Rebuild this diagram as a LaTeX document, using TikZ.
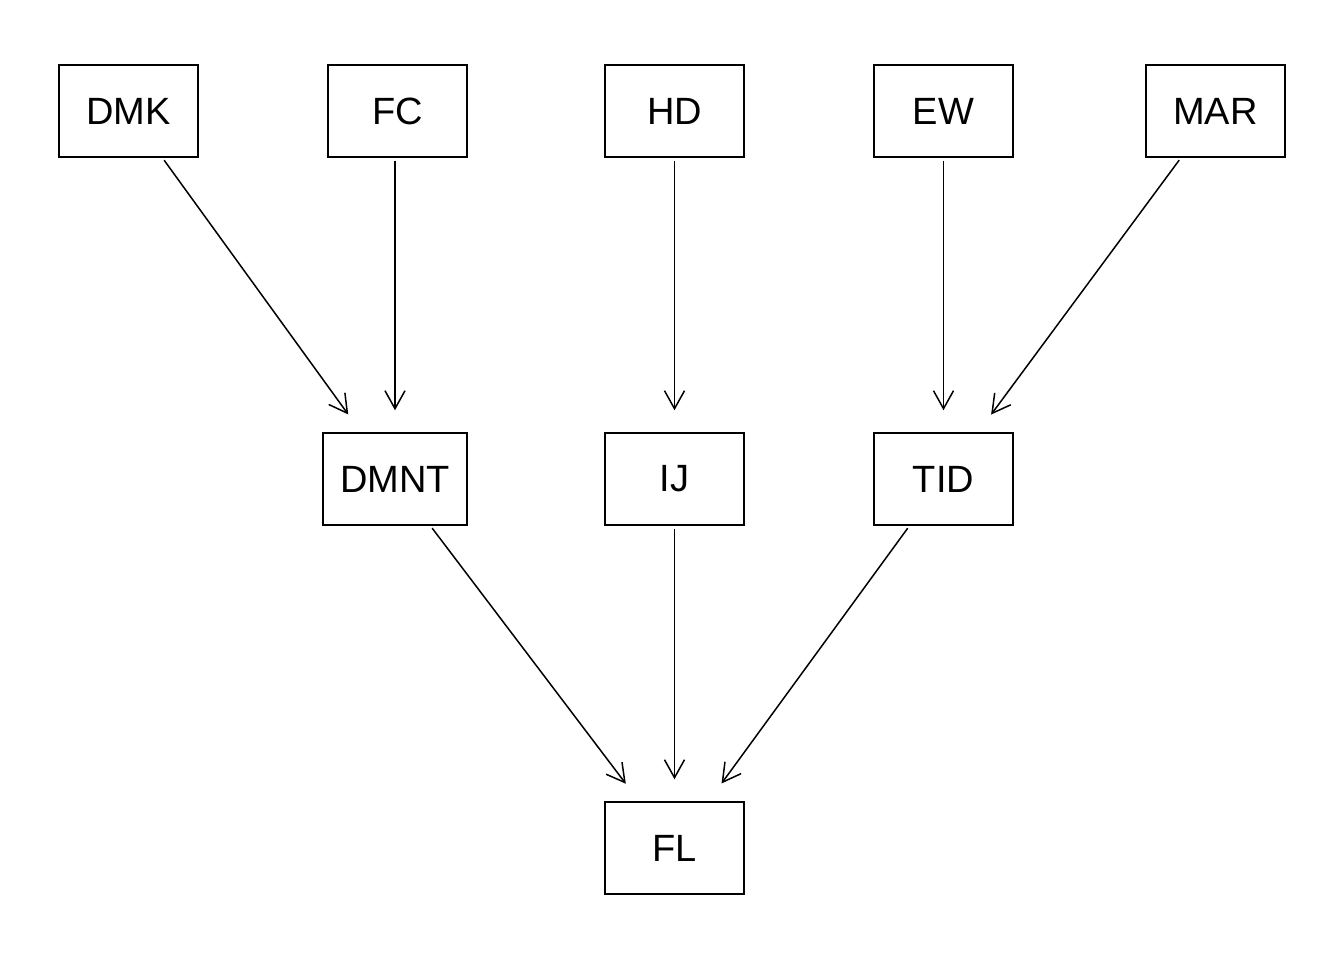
\documentclass[tikz,border=0pt]{standalone}
\usepackage{fontspec}
\setmainfont{Liberation Sans}
\usetikzlibrary{arrows.meta}

\begin{document}
\begin{tikzpicture}[
    x=0.5pt, y=-0.5pt,
    font=\fontsize{19}{22}\selectfont,
    box/.style={draw, line width=0.75pt, minimum width=69.5pt, minimum height=46pt, inner xsep=8.5pt},
    arrow/.style={-{Straight Barb[length=9pt, width=10pt, line width=0.75pt]}, line width=0.75pt, shorten >=11pt, shorten <=1.5pt}
]
\useasboundingbox (0,0) rectangle (1344,960);
% top row
\node[box] (dmk) at (128.5,111) {DMK};
\node[box] (fc) at (397.5,111) {FC};
\node[box] (hd) at (674.5,111) {HD};
\node[box] (ew) at (943.5,111) {EW};
\node[box] (mar) at (1215.5,111) {MAR};
% middle row
\node[box] (dmnt) at (395,479) {DMNT};
\node[box] (ij) at (674.5,479) {IJ};
\node[box] (tid) at (943.5,479) {TID};
% bottom
\node[box] (fl) at (674.5,848) {FL};
\draw[arrow] (dmk) -- (dmnt);
\draw[arrow] (fc.south -| dmnt.north) -- (dmnt);
\draw[arrow] (hd) -- (ij);
\draw[arrow] (ew) -- (tid);
\draw[arrow] (mar) -- (tid);
\draw[arrow] (dmnt) -- (fl);
\draw[arrow] (ij) -- (fl);
\draw[arrow] (tid) -- (fl);
\end{tikzpicture}
\end{document}
